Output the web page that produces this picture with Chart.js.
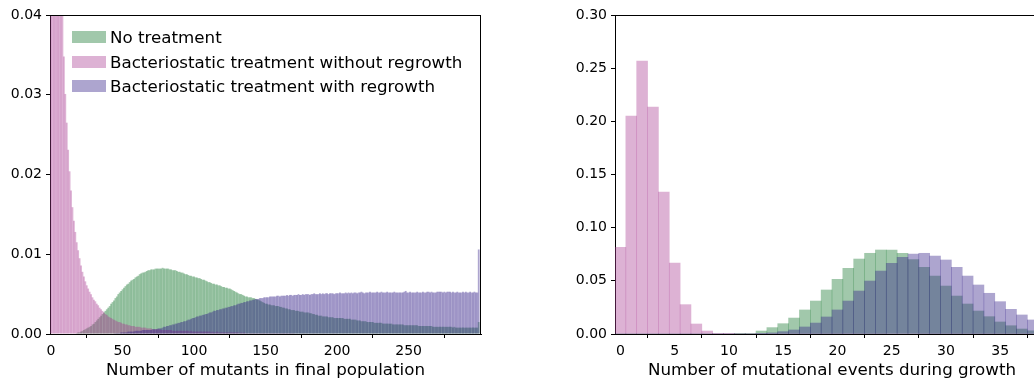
<!DOCTYPE html>
<html lang="en">
<head>
<meta charset="UTF-8">
<title>Mutant distributions</title>
<style>
    html, body { margin: 0; padding: 0; background: #fff; }
    #page { position: relative; width: 1034px; height: 381px; overflow: hidden; font-family: 'DejaVu Sans', sans-serif; }
    #leftBox { position: absolute; left: 0; top: 0; width: 490px; height: 381px; }
    #rightBox { position: absolute; left: 560px; top: 0; width: 490px; height: 381px; }
    #legend { position: absolute; left: 72px; top: 25px; font-size: 16.7px; color: #000; }
    #legend div { height: 24.5px; display: flex; align-items: center; white-space: nowrap; }
    #legend span.sw { display: inline-block; width: 34px; height: 12px; margin-right: 4px; }
</style>
<script src="https://cdn.jsdelivr.net/npm/chart.js"></script>
</head>
<body>
<div id="page">
    <div id="leftBox"><canvas id="mutants" width="490" height="381"></canvas></div>
    <div id="rightBox"><canvas id="events" width="490" height="381"></canvas></div>
    <div id="legend"></div>
</div>
<script>
// series names, drawn in this order (bottom to top)
const seriesNames = ['No treatment', 'Bacteriostatic treatment without regrowth', 'Bacteriostatic treatment with regrowth'];
const seriesColors = ['rgba(20,118,45,0.4)', 'rgba(170,62,147,0.4)', 'rgba(50,30,135,0.4)'];

// left panel: number of mutants in final population, bins 0..299
const mutantBins = Array.from({ length: 300 }, (_, i) => i);
const mutantsNoTreat = [
    0, 0, 0, 0, 0, 0, 0, 0, 0, 0,
    0, 0, 0, 0, 0, 0, 0, 0, 0.0001, 0.0002,
    0.0002, 0.0003, 0.0004, 0.0005, 0.0006, 0.0007, 0.0008, 0.0009, 0.0010, 0.0012,
    0.0013, 0.0015, 0.0017, 0.0019, 0.0021, 0.0023, 0.0025, 0.0027, 0.0029, 0.0031,
    0.0033, 0.0035, 0.0038, 0.0040, 0.0042, 0.0045, 0.0047, 0.0050, 0.0052, 0.0054,
    0.0056, 0.0058, 0.0060, 0.0062, 0.0063, 0.0065, 0.0067, 0.0068, 0.0069, 0.0071,
    0.0072, 0.0073, 0.0075, 0.0076, 0.0077, 0.0077, 0.0078, 0.0079, 0.0080, 0.0080,
    0.0081, 0.0081, 0.0081, 0.0082, 0.0082, 0.0082, 0.0082, 0.0082, 0.0083, 0.0082,
    0.0082, 0.0082, 0.0082, 0.0081, 0.0081, 0.0080, 0.0080, 0.0080, 0.0079, 0.0078,
    0.0078, 0.0077, 0.0077, 0.0076, 0.0075, 0.0075, 0.0074, 0.0073, 0.0073, 0.0072,
    0.0072, 0.0071, 0.0071, 0.0070, 0.0070, 0.0069, 0.0068, 0.0068, 0.0067, 0.0066,
    0.0065, 0.0065, 0.0064, 0.0063, 0.0063, 0.0062, 0.0062, 0.0061, 0.0061, 0.0060,
    0.0059, 0.0059, 0.0058, 0.0058, 0.0057, 0.0057, 0.0056, 0.0055, 0.0054, 0.0053,
    0.0052, 0.0051, 0.0050, 0.0050, 0.0049, 0.0048, 0.0047, 0.0047, 0.0046, 0.0046,
    0.0046, 0.0045, 0.0045, 0.0044, 0.0043, 0.0043, 0.0042, 0.0041, 0.0040, 0.0039,
    0.0038, 0.0038, 0.0037, 0.0037, 0.0036, 0.0036, 0.0036, 0.0035, 0.0035, 0.0035,
    0.0034, 0.0034, 0.0033, 0.0033, 0.0032, 0.0032, 0.0031, 0.0031, 0.0030, 0.0030,
    0.0030, 0.0029, 0.0029, 0.0029, 0.0028, 0.0028, 0.0028, 0.0027, 0.0027, 0.0027,
    0.0027, 0.0026, 0.0026, 0.0025, 0.0025, 0.0024, 0.0024, 0.0023, 0.0023, 0.0023,
    0.0022, 0.0022, 0.0022, 0.0022, 0.0021, 0.0021, 0.0021, 0.0021, 0.0020, 0.0020,
    0.0020, 0.0020, 0.0020, 0.0020, 0.0020, 0.0019, 0.0019, 0.0019, 0.0019, 0.0019,
    0.0018, 0.0018, 0.0018, 0.0018, 0.0017, 0.0017, 0.0017, 0.0016, 0.0016, 0.0016,
    0.0016, 0.0015, 0.0015, 0.0015, 0.0015, 0.0015, 0.0014, 0.0014, 0.0014, 0.0014,
    0.0014, 0.0014, 0.0013, 0.0013, 0.0013, 0.0013, 0.0013, 0.0013, 0.0013, 0.0012,
    0.0012, 0.0012, 0.0012, 0.0012, 0.0012, 0.0012, 0.0012, 0.0011, 0.0011, 0.0011,
    0.0011, 0.0011, 0.0011, 0.0011, 0.0011, 0.0011, 0.0011, 0.0010, 0.0010, 0.0010,
    0.0010, 0.0010, 0.0010, 0.0010, 0.0010, 0.0010, 0.0010, 0.0009, 0.0009, 0.0009,
    0.0009, 0.0009, 0.0009, 0.0009, 0.0009, 0.0009, 0.0009, 0.0009, 0.0009, 0.0009,
    0.0009, 0.0008, 0.0009, 0.0008, 0.0008, 0.0008, 0.0008, 0.0008, 0.0008, 0.0008,
    0.0008, 0.0008, 0.0008, 0.0008, 0.0008, 0.0008, 0.0008, 0.0008, 0.0008, 0.0015
];
const mutantsNoRegrowth = [
    0.095, 0.080, 0.069, 0.061, 0.055, 0.050, 0.046, 0.043, 0.0405, 0.0348,
    0.0301, 0.0265, 0.0231, 0.0204, 0.0180, 0.0159, 0.0142, 0.0128, 0.0115, 0.0105,
    0.0095, 0.0086, 0.0078, 0.0072, 0.0066, 0.0061, 0.0057, 0.0053, 0.0050, 0.0046,
    0.0043, 0.0041, 0.0038, 0.0036, 0.0033, 0.0031, 0.0029, 0.0027, 0.0025, 0.0024,
    0.0022, 0.0021, 0.0020, 0.0019, 0.0018, 0.0017, 0.0016, 0.0015, 0.0015, 0.0014,
    0.0013, 0.0013, 0.0012, 0.0012, 0.0011, 0.0011, 0.0010, 0.0010, 0.0010, 0.0009,
    0.0009, 0.0009, 0.0009, 0.0008, 0.0008, 0.0008, 0.0008, 0.0007, 0.0007, 0.0007,
    0.0007, 0.0006, 0.0006, 0.0006, 0.0006, 0.0006, 0.0006, 0.0005, 0.0005, 0.0005,
    0.0005, 0.0005, 0.0005, 0.0005, 0.0005, 0.0004, 0.0004, 0.0004, 0.0004, 0.0004,
    0.0004, 0.0004, 0.0004, 0.0004, 0.0004, 0.0004, 0.0004, 0.0003, 0.0004, 0.0003,
    0.0003, 0.0003, 0.0003, 0.0003, 0.0003, 0.0003, 0.0003, 0.0003, 0.0003, 0.0003,
    0.0003, 0.0003, 0.0002, 0.0003, 0.0002, 0.0002, 0.0003, 0.0002, 0.0002, 0.0002,
    0.0002, 0.0002, 0.0002, 0.0002, 0.0002, 0.0002, 0.0002, 0.0002, 0.0002, 0.0002,
    0.0002, 0.0002, 0.0001, 0.0002, 0.0001, 0.0002, 0.0001, 0.0001, 0.0001, 0.0001,
    0.0001, 0.0001, 0.0001, 0.0001, 0.0001, 0.0001, 0.0001, 0.0001, 0.0001, 0.0001,
    0.0001, 0.0001, 0.0001, 0.0001, 0.0001, 0.0001, 0.0001, 0.0001, 0.0001, 0.0001,
    0.0001, 0.0001, 0.0001, 0.0001, 0.0001, 0.0001, 0.0001, 0.0001, 0.0001, 0.0001,
    0.00005, 0.00005, 0.00005, 0.00005, 0.00005, 0.00005, 0.00005, 0.00005, 0.00005, 0.00005,
    0.00005, 0.00005, 0.00005, 0.00005, 0.00005, 0.00005, 0.00005, 0.00005, 0.00005, 0.00005,
    0.00005, 0.00005, 0.00005, 0.00005, 0.00005, 0.00005, 0.00005, 0.00005, 0.00005, 0.00005,
    0, 0, 0, 0, 0, 0, 0, 0, 0, 0,
    0, 0, 0, 0, 0, 0, 0, 0, 0, 0,
    0, 0, 0, 0, 0, 0, 0, 0, 0, 0,
    0, 0, 0, 0, 0, 0, 0, 0, 0, 0,
    0, 0, 0, 0, 0, 0, 0, 0, 0, 0,
    0, 0, 0, 0, 0, 0, 0, 0, 0, 0,
    0, 0, 0, 0, 0, 0, 0, 0, 0, 0,
    0, 0, 0, 0, 0, 0, 0, 0, 0, 0,
    0, 0, 0, 0, 0, 0, 0, 0, 0, 0,
    0, 0, 0, 0, 0, 0, 0, 0, 0, 0
];
const mutantsRegrowth = [
    0, 0, 0, 0, 0, 0, 0, 0, 0, 0,
    0, 0, 0, 0, 0, 0, 0, 0, 0, 0,
    0, 0, 0, 0, 0, 0, 0, 0, 0, 0,
    0, 0, 0, 0, 0, 0, 0, 0, 0, 0,
    0, 0, 0, 0, 0, 0.0001, 0.0001, 0.0001, 0.0001, 0.0002,
    0.0002, 0.0002, 0.0002, 0.0002, 0.0003, 0.0003, 0.0003, 0.0003, 0.0003, 0.0004,
    0.0004, 0.0004, 0.0004, 0.0004, 0.0005, 0.0005, 0.0005, 0.0005, 0.0005, 0.0005,
    0.0005, 0.0006, 0.0006, 0.0006, 0.0006, 0.0007, 0.0007, 0.0007, 0.0008, 0.0009,
    0.0009, 0.0010, 0.0010, 0.0011, 0.0011, 0.0012, 0.0012, 0.0013, 0.0013, 0.0014,
    0.0014, 0.0015, 0.0015, 0.0016, 0.0016, 0.0017, 0.0018, 0.0018, 0.0019, 0.0020,
    0.0020, 0.0021, 0.0022, 0.0022, 0.0023, 0.0023, 0.0024, 0.0024, 0.0025, 0.0025,
    0.0026, 0.0027, 0.0027, 0.0028, 0.0029, 0.0029, 0.0030, 0.0030, 0.0031, 0.0031,
    0.0032, 0.0032, 0.0033, 0.0033, 0.0034, 0.0034, 0.0035, 0.0035, 0.0036, 0.0036,
    0.0037, 0.0038, 0.0038, 0.0039, 0.0039, 0.0040, 0.0040, 0.0041, 0.0041, 0.0042,
    0.0042, 0.0043, 0.0043, 0.0044, 0.0044, 0.0044, 0.0045, 0.0045, 0.0045, 0.0046,
    0.0046, 0.0046, 0.0046, 0.0047, 0.0047, 0.0047, 0.0047, 0.0047, 0.0048, 0.0048,
    0.0047, 0.0048, 0.0048, 0.0048, 0.0048, 0.0049, 0.0048, 0.0049, 0.0049, 0.0048,
    0.0049, 0.0049, 0.0049, 0.0050, 0.0049, 0.0049, 0.0050, 0.0049, 0.0050, 0.0050,
    0.0050, 0.0049, 0.0050, 0.0050, 0.0051, 0.0050, 0.0050, 0.0050, 0.0051, 0.0050,
    0.0051, 0.0050, 0.0051, 0.0051, 0.0050, 0.0051, 0.0051, 0.0051, 0.0050, 0.0051,
    0.0051, 0.0051, 0.0052, 0.0051, 0.0051, 0.0051, 0.0052, 0.0051, 0.0052, 0.0051,
    0.0052, 0.0051, 0.0052, 0.0052, 0.0051, 0.0052, 0.0052, 0.0053, 0.0052, 0.0051,
    0.0052, 0.0052, 0.0052, 0.0053, 0.0052, 0.0052, 0.0052, 0.0052, 0.0053, 0.0052,
    0.0052, 0.0053, 0.0052, 0.0052, 0.0052, 0.0053, 0.0052, 0.0052, 0.0052, 0.0052,
    0.0053, 0.0052, 0.0052, 0.0052, 0.0052, 0.0052, 0.0052, 0.0053, 0.0054, 0.0052,
    0.0052, 0.0053, 0.0052, 0.0052, 0.0052, 0.0052, 0.0053, 0.0052, 0.0052, 0.0052,
    0.0053, 0.0052, 0.0052, 0.0053, 0.0053, 0.0052, 0.0053, 0.0052, 0.0052, 0.0052,
    0.0053, 0.0053, 0.0053, 0.0053, 0.0052, 0.0053, 0.0052, 0.0053, 0.0053, 0.0053,
    0.0052, 0.0053, 0.0052, 0.0052, 0.0053, 0.0052, 0.0052, 0.0052, 0.0053, 0.0052,
    0.0053, 0.0052, 0.0052, 0.0053, 0.0052, 0.0052, 0.0053, 0.0052, 0.0052, 0.0106
];
const mutantTicksX = [0, 50, 100, 150, 200, 250];
const mutantTicksY = [0, 0.01, 0.02, 0.03, 0.04];

// right panel: number of mutational events during growth, bins 0..39
const eventBins = [0, 1, 2, 3, 4, 5, 6, 7, 8, 9, 10, 11, 12, 13, 14, 15, 16, 17, 18, 19,
                   20, 21, 22, 23, 24, 25, 26, 27, 28, 29, 30, 31, 32, 33, 34, 35, 36, 37, 38, 39];
const eventsNoTreat = [
    0, 0, 0, 0, 0, 0, 0, 0, 0, 0,
    0, 0.0002, 0.0006, 0.0028, 0.0060, 0.0097, 0.0150, 0.0226, 0.0310, 0.0414,
    0.0514, 0.0618, 0.0705, 0.0759, 0.0790, 0.0790, 0.0759, 0.0700, 0.0627, 0.0545,
    0.0451, 0.0357, 0.0282, 0.0216, 0.0163, 0.0113, 0.0078, 0.0047, 0.0030, 0.0018
];
const eventsNoRegrowth = [
    0.0815, 0.2050, 0.2567, 0.2135, 0.1335, 0.0668, 0.0276, 0.0094, 0.0028, 0.0006,
    0.0001, 0, 0, 0, 0, 0, 0, 0, 0, 0,
    0, 0, 0, 0, 0, 0, 0, 0, 0, 0,
    0, 0, 0, 0, 0, 0, 0, 0, 0, 0
];
const eventsRegrowth = [
    0, 0, 0, 0, 0, 0, 0, 0, 0, 0,
    0, 0, 0, 0.0003, 0.0010, 0.0022, 0.0038, 0.0066, 0.0103, 0.0160,
    0.0226, 0.0310, 0.0404, 0.0498, 0.0592, 0.0665, 0.0721, 0.0752, 0.0759, 0.0733,
    0.0696, 0.0627, 0.0545, 0.0461, 0.0383, 0.0304, 0.0232, 0.0179, 0.0132, 0.0095
];
const eventTicksX = [0, 5, 10, 15, 20, 25, 30, 35];
const eventTicksY = [0, 0.05, 0.10, 0.15, 0.20, 0.25, 0.30];

const FONT = "'DejaVu Sans', sans-serif";

// matplotlib style box around the axes
const spinesPlugin = {
    id: 'spines',
    afterDraw(chart, args, opts) {
        const { ctx, chartArea: a } = chart;
        ctx.save();
        ctx.strokeStyle = '#000';
        ctx.lineWidth = 1;
        ctx.beginPath();
        ctx.moveTo(a.left, a.top + 0.5);
        ctx.lineTo(a.right, a.top + 0.5);
        if (opts.right) {
            ctx.moveTo(a.right - 0.5, a.top);
            ctx.lineTo(a.right - 0.5, a.bottom);
        }
        ctx.stroke();
        ctx.restore();
    }
};

function makeHist(id, bins, series, xTicks, yTicks, xRange, yMax, yWidth, padRight, xTitle, rightSpine, barPct) {
    const datasets = series.map((vals, k) => ({
        label: seriesNames[k],
        data: bins.map((b, i) => ({ x: b, y: vals[i] })),
        backgroundColor: seriesColors[k],
        borderWidth: 0,
        barPercentage: barPct,
        categoryPercentage: 1.0,
        grouped: false,
        order: series.length - k
    }));
    return new Chart(document.getElementById(id), {
        type: 'bar',
        data: { datasets },
        options: {
            responsive: false,
            animation: false,
            layout: { padding: { top: 15, right: padRight, left: 0, bottom: 0 } },
            plugins: { legend: { display: false }, tooltip: { enabled: false }, spines: { right: rightSpine } },
            scales: {
                x: {
                    type: 'linear',
                    offset: false,
                    min: xRange[0],
                    max: xRange[1],
                    afterBuildTicks: s => { s.ticks = xTicks.map(v => ({ value: v })); },
                    afterFit: s => { s.height = 47; },
                    grid: { drawOnChartArea: false, color: '#000', tickLength: 4 },
                    border: { color: '#000', width: 1 },
                    ticks: { color: '#000', font: { family: FONT, size: 14 }, padding: 5, maxRotation: 0 },
                    title: { display: true, text: xTitle, color: '#000', font: { family: FONT, size: 16.7 }, padding: { top: 0, bottom: 0 } }
                },
                y: {
                    min: 0,
                    max: yMax,
                    afterBuildTicks: s => { s.ticks = yTicks.map(v => ({ value: v })); },
                    afterFit: s => { s.width = yWidth; },
                    grid: { drawOnChartArea: false, color: '#000', tickLength: 4 },
                    border: { color: '#000', width: 1 },
                    ticks: { color: '#000', font: { family: FONT, size: 14 }, padding: 4, callback: v => v.toFixed(2) }
                }
            }
        },
        plugins: [spinesPlugin]
    });
}

const left = makeHist('mutants', mutantBins, [mutantsNoTreat, mutantsNoRegrowth, mutantsRegrowth],
    mutantTicksX, mutantTicksY, [-0.7, 300.6], 0.04, 50, 9, 'Number of mutants in final population', true, 1.25);
makeHist('events', eventBins, [eventsNoTreat, eventsNoRegrowth, eventsRegrowth],
    eventTicksX, eventTicksY, [-0.5, 39.5], 0.30, 55, 1, 'Number of mutational events during growth', false, 1.0);

// legend, built from the left chart's datasets
const legendBox = document.getElementById('legend');
left.data.datasets.forEach(ds => {
    const row = document.createElement('div');
    row.innerHTML = '<span class="sw" style="background:' + ds.backgroundColor + '"></span>' + ds.label;
    legendBox.appendChild(row);
});
</script>
</body>
</html>
